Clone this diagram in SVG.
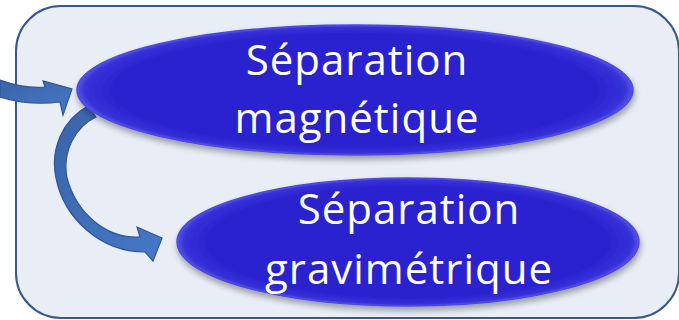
<svg xmlns="http://www.w3.org/2000/svg" width="679" height="320" viewBox="0 0 679 320">
<defs>
<style>
.lbl{font-family:"Open Sans","DejaVu Sans",sans-serif;font-size:42px;letter-spacing:1px;fill:#ffffff;text-anchor:middle}
.arr{fill:url(#ag);stroke:#2F5597;stroke-width:1.2}
.ell{fill:url(#eg);stroke:#4B47E0;stroke-width:1.5;filter:url(#sh)}
</style>
<radialGradient id="eg" cx="0.5" cy="0.5" r="0.5">
<stop offset="0.85" stop-color="#2A20CE"/>
<stop offset="0.97" stop-color="#3631D8"/>
<stop offset="1" stop-color="#5656E6"/>
</radialGradient>
<linearGradient id="ag" x1="0" y1="0" x2="1" y2="1">
<stop offset="0" stop-color="#3A64A8"/>
<stop offset="1" stop-color="#4678C8"/>
</linearGradient>
<filter id="sh" x="-10%" y="-20%" width="120%" height="150%">
<feGaussianBlur in="SourceAlpha" stdDeviation="3"/>
<feOffset dx="1" dy="4" result="b"/>
<feComponentTransfer><feFuncA type="linear" slope="0.35"/></feComponentTransfer>
<feMerge><feMergeNode/><feMergeNode in="SourceGraphic"/></feMerge>
</filter>
</defs>
<rect x="16" y="6" width="663" height="312" rx="45" ry="45" fill="#E9EDF6" stroke="#35598A" stroke-width="2"/>
<g id="connectors">
<path class="arr" d="M0,80 Q25,89 45,87 L43,81 L72,89 L63,115 L60,102 Q30,106 0,97 Z"/>
<path class="arr" d="M88,106 C62,120 50,150 56,178 C64,218 100,252 145,252 L153,261 L162,238 L137,227 L140,237 C105,239 76,212 67,178 C62,152 75,127 96,117 Z"/>
</g>
<g id="node1">
<ellipse class="ell" cx="355" cy="90" rx="278" ry="65"/>
<text class="lbl" x="357" y="75">Séparation</text>
<text class="lbl" x="357" y="133">magnétique</text>
</g>
<g id="node2">
<ellipse class="ell" cx="408" cy="242" rx="231" ry="64"/>
<text class="lbl" x="409" y="224">Séparation</text>
<text class="lbl" x="409" y="284">gravimétrique</text>
</g>
</svg>
